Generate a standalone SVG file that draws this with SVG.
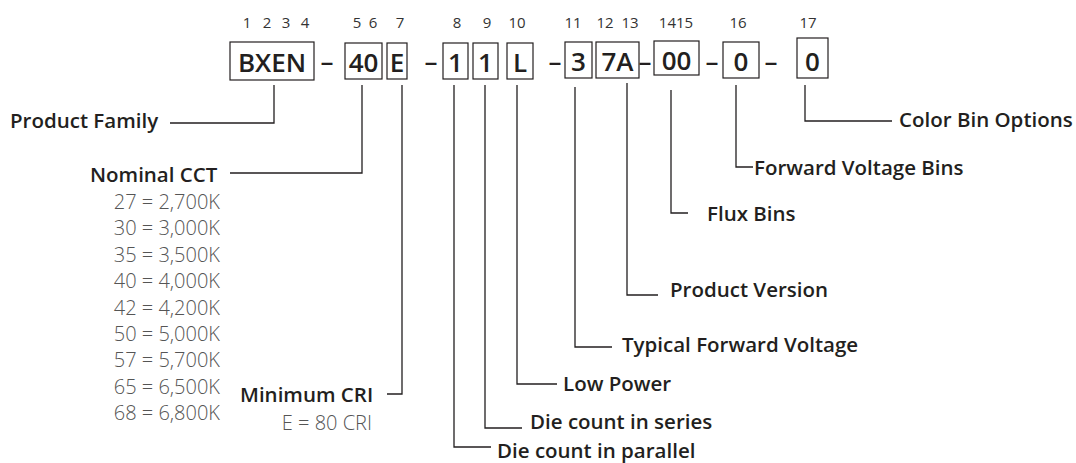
<svg xmlns="http://www.w3.org/2000/svg" width="1076" height="463" viewBox="0 0 1076 463">
<style>
  text { font-family: "Open Sans", "Liberation Sans", sans-serif; fill: #231f20; }
  .num { font-size: 15px; text-anchor: middle; fill: #333; }
  .box { fill: none; stroke: #231f20; stroke-width: 1.2; }
  .code { font-size: 26px; font-weight: 600; text-anchor: middle; }
  .dash { font-size: 26px; font-weight: 600; text-anchor: middle; }
  .lbl { font-size: 20.5px; font-weight: 600; }
  .opt { font-size: 20px; font-weight: 300; fill: #555555; text-anchor: end; }
  .conn { fill: none; stroke: #231f20; stroke-width: 1.3; }
</style>
<rect width="1076" height="463" fill="#ffffff"/>

<g id="position-numbers">
  <text class="num" x="247" y="28">1</text>
  <text class="num" x="267" y="28">2</text>
  <text class="num" x="286" y="28">3</text>
  <text class="num" x="305" y="28">4</text>
  <text class="num" x="357" y="28">5</text>
  <text class="num" x="373" y="28">6</text>
  <text class="num" x="400" y="28">7</text>
  <text class="num" x="457" y="28">8</text>
  <text class="num" x="487" y="28">9</text>
  <text class="num" x="517" y="28">10</text>
  <text class="num" x="573" y="28">11</text>
  <text class="num" x="605" y="28">12</text>
  <text class="num" x="630" y="28">13</text>
  <text class="num" x="676" y="28">1415</text>
  <text class="num" x="738" y="28">16</text>
  <text class="num" x="808" y="28">17</text>
</g>

<g id="code-bxen"><rect class="box" x="230" y="42" width="84" height="38"/><text class="code" x="272" y="72">BXEN</text></g>
<g id="code-40"><rect class="box" x="345" y="43" width="37" height="36"/><text class="code" x="363.5" y="72">40</text></g>
<g id="code-e"><rect class="box" x="387" y="43" width="20" height="36"/><text class="code" x="397" y="72">E</text></g>
<g id="code-1a"><rect class="box" x="443" y="43" width="25" height="36"/><text class="code" x="455.5" y="72">1</text></g>
<g id="code-1b"><rect class="box" x="473" y="43" width="25" height="36"/><text class="code" x="485.5" y="72">1</text></g>
<g id="code-l"><rect class="box" x="507" y="43" width="26" height="36"/><text class="code" x="520" y="72">L</text></g>
<g id="code-3"><rect class="box" x="565" y="42" width="27" height="36"/><text class="code" x="578.5" y="71">3</text></g>
<g id="code-7a"><rect class="box" x="596" y="42" width="43" height="36"/><text class="code" x="617.5" y="71">7A</text></g>
<g id="code-00"><rect class="box" x="654" y="41" width="45" height="34"/><text class="code" x="676.5" y="70">00</text></g>
<g id="code-0a"><rect class="box" x="723" y="42" width="36" height="36"/><text class="code" x="741" y="71">0</text></g>
<g id="code-0b"><rect class="box" x="797" y="38" width="31" height="40"/><text class="code" x="812.5" y="71">0</text></g>

<g id="dashes">
  <text class="dash" x="327" y="71">–</text>
  <text class="dash" x="431" y="71">–</text>
  <text class="dash" x="555" y="71">–</text>
  <text class="dash" x="645" y="71">–</text>
  <text class="dash" x="712" y="71">–</text>
  <text class="dash" x="771" y="71">–</text>
</g>

<g id="connectors">
  <path class="conn" d="M274,85 V123 H170"/>
  <path class="conn" d="M362,85 V173 H230"/>
  <path class="conn" d="M402,85 V394 H387"/>
  <path class="conn" d="M454,85 V447 H491"/>
  <path class="conn" d="M485,85 V428 H522"/>
  <path class="conn" d="M517,85 V384 H557"/>
  <path class="conn" d="M575,87 V347 H612"/>
  <path class="conn" d="M627,83 V295 H658"/>
  <path class="conn" d="M671,90 V213 H688"/>
  <path class="conn" d="M736,85 V167 H753"/>
  <path class="conn" d="M805,85 V121 H892"/>
</g>

<g id="label-product-family"><text class="lbl" x="10" y="128">Product Family</text></g>
<g id="label-nominal-cct">
  <text class="lbl" x="90" y="182">Nominal CCT</text>
  <text class="opt" x="220" y="209">27 = 2,700K</text>
  <text class="opt" x="220" y="235">30 = 3,000K</text>
  <text class="opt" x="220" y="262">35 = 3,500K</text>
  <text class="opt" x="220" y="288">40 = 4,000K</text>
  <text class="opt" x="220" y="315">42 = 4,200K</text>
  <text class="opt" x="220" y="341">50 = 5,000K</text>
  <text class="opt" x="220" y="367">57 = 5,700K</text>
  <text class="opt" x="220" y="394">65 = 6,500K</text>
  <text class="opt" x="220" y="420">68 = 6,800K</text>
</g>
<g id="label-minimum-cri">
  <text class="lbl" x="240" y="402">Minimum CRI</text>
  <text class="opt" x="372" y="430">E = 80 CRI</text>
</g>
<g id="label-parallel"><text class="lbl" x="497" y="458">Die count in parallel</text></g>
<g id="label-series"><text class="lbl" x="530" y="429">Die count in series</text></g>
<g id="label-low-power"><text class="lbl" x="563" y="391">Low Power</text></g>
<g id="label-typical-fv"><text class="lbl" x="622" y="352">Typical Forward Voltage</text></g>
<g id="label-product-version"><text class="lbl" x="670" y="297">Product Version</text></g>
<g id="label-flux-bins"><text class="lbl" x="707" y="221">Flux Bins</text></g>
<g id="label-fv-bins"><text class="lbl" x="754" y="175">Forward Voltage Bins</text></g>
<g id="label-color-bin"><text class="lbl" x="899" y="127">Color Bin Options</text></g>
</svg>
